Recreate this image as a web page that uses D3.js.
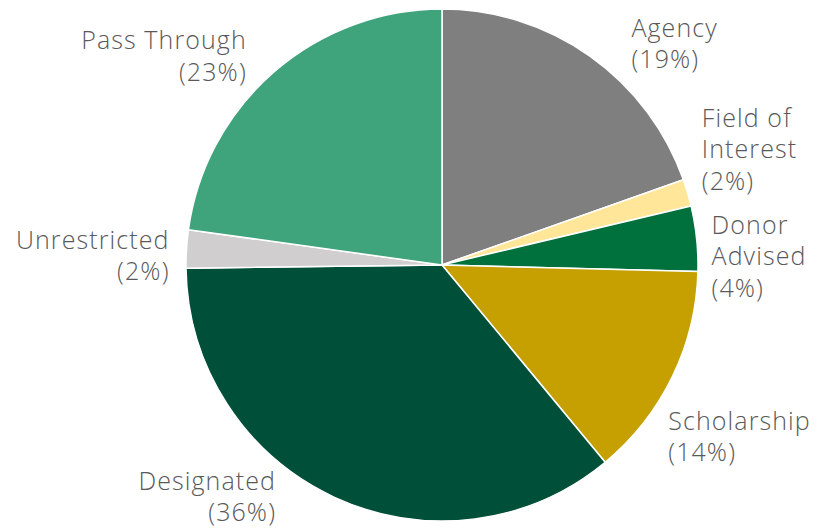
<!DOCTYPE html>
<html><head><meta charset="utf-8">
<script src="https://cdn.jsdelivr.net/npm/d3@7"></script>
<style>html,body{margin:0;padding:0;background:#fff;}svg{display:block;}</style>
</head><body><svg id="chart" width="828" height="529"></svg>
<script>
const categories = ["Agency","Field of Interest","Donor Advised","Scholarship","Designated","Unrestricted","Pass Through"];
const values = [19.6, 1.7, 4.1, 13.6, 35.8, 2.4, 22.8];
const percentLabels = ["19%","2%","4%","14%","36%","2%","23%"];
const labelLines = [["Agency"],["Field of","Interest"],["Donor","Advised"],["Scholarship"],["Designated"],["Unrestricted"],["Pass Through"]];
const colors = ["#7f7f7f","#ffe699","#00703c","#c5a000","#004f38","#d0cece","#3fa37b"];
// layout nudges for labels relative to radial anchor (style/layout only)
const labelNudge = [[30,13],[-5,-29],[-5,29],[-22,60],[-50,-10],[3,17],[-14,8]];

const svg = d3.select("#chart");
const cx = 442, cy = 265, r = 256;
const g = svg.append("g").attr("transform",`translate(${cx},${cy})`);
const data = categories.map((c,i)=>({c,v:values[i],i}));
const pie = d3.pie().value(d=>d.v).sort(null);
const arcs = pie(data);
const arc = d3.arc().innerRadius(0).outerRadius(r);
g.selectAll("path").data(arcs).join("path")
  .attr("d",arc).attr("fill",d=>colors[d.data.i])
  .attr("stroke","#fff").attr("stroke-width",1.5).attr("stroke-linejoin","round");

const lineH = 31.5;
arcs.forEach(a=>{
  const i = a.data.i;
  const mid = (a.startAngle+a.endAngle)/2;
  const R = r+20;
  const px = R*Math.sin(mid) + labelNudge[i][0];
  const py = -R*Math.cos(mid) + labelNudge[i][1];
  const lines = labelLines[i].concat([`(${percentLabels[i]})`]);
  const anchor = Math.sin(mid) >= 0 ? "start" : "end";
  const n = lines.length;
  const t = g.append("text").attr("text-anchor",anchor)
    .attr("font-family","'Open Sans', sans-serif").attr("font-size",25)
    .attr("font-weight",300)
    .attr("letter-spacing",1.1).attr("fill","#595959");
  lines.forEach((ln,k)=>{
    t.append("tspan").attr("x",px).attr("y",py + (k-(n-1)/2)*lineH).text(ln);
  });
});
</script></body></html>
